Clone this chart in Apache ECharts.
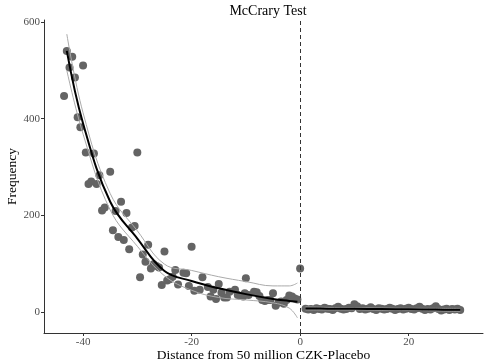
<!DOCTYPE html>
<html><head><meta charset="utf-8">
<script src="https://cdn.jsdelivr.net/npm/echarts@6/dist/echarts.min.js"></script>
<style>html,body{margin:0;padding:0;background:#fff}#c{width:485px;height:362px}</style>
</head><body><div id="c"></div>
<script>
// left-of-cutoff bins
const leftX = [-43.5,-43,-42.5,-42,-41.5,-40,-41,-40.5,-39.5,-39,-38.5,-38,-37.5,-37,-35,-30,
  -36.5,-36,-34,-33,-32,-34.5,-33.5,-32.5,-31.5,-31,-30.5,-29.5,-29,-28.5,-28,-27.5,-27,-26.5,-26,
  -25,-25.5,-24.5,-24,-23.5,-23,-22.5,-21.5,-21,-20.5,-20,-19.5,-18.5,-18,-17,-16.5,-16,-15.5,-15,
  -14.5,-14,-13.5,-13,-12,-11.5,-11,-10.5,-10,-10.2,-9.5,-8.5,-8,-7.5,-7,-6.5,-6,-5.5,-5,-4.5,-4,
  -3.5,-3,-2.5,-2,-1.5,-1,-0.5,0];
const leftY = [447,540,506,528,485,510,403,382,330,265,270,328,265,283,290,330,
  210,216,209,228,205,169,155,149,130,175,178,72,119,104,139,90,99,95,92,
  125,56,65,68,73,87,57,81,80,54,135,44,46,72,52,32,46,27,58,
  40,30,30,42,46,35,33,32,70,39,35,42,41,33,25,23,25,25,39,13,19,
  22,17,25,34,32,28,26,90];
// right-of-cutoff bins
const rightX = [1,1.5,2,2.5,3,3.5,4,4.5,5,5.5,6,6.5,7,7.5,8,8.5,9,9.5,10,10.5,11,11.5,12,12.5,13,13.5,14,14.5,
  15,15.5,16,16.5,17,17.5,18,18.5,19,19.5,20,20.5,21,21.5,22,22.5,23,23.5,24,24.5,25,25.5,26,26.5,27,27.5,28,28.5,29,29.5];
const rightY = [7,5,6,4,8,6,5,9,7,6,4,8,11,7,5,6,9,8,16,12,6,8,5,7,10,6,4,8,
  7,5,6,9,7,4,6,8,5,7,9,6,5,8,11,7,4,6,5,8,12,6,3,5,7,4,6,5,7,4];
// fitted density and confidence band (left)
const fitLX = [-43,-40,-35,-30,-25,-20,-15,-10,-5,-2,-0.5];
const fitLY = [540,390,228,152,85,64,49,37,27,23,21];
const upLY  = [575,412,245,168,99,86,73,63,54,54,60];
const loLY  = [500,368,211,136,75,45,30,25,19,8,-12];
// fitted density and band (right)
const fitRX = [1,5,10,15,20,25,29.5];
const fitRY = [7.5,7,6.5,6,5.5,5,4.5];
const upRY  = [10.5,9.5,8.5,8,7.5,7.5,7.5];
const loRY  = [4.5,4.5,4.5,4,3.5,2.5,1.5];
const xTicks = [-40,-20,0,20];
const yTicks = [0,200,400,600];

const zip = (a,b)=>a.map((v,i)=>[v,b[i]]);
const font = 'Liberation Serif';
const lineS = (x,y,color,w)=>({type:'line',data:zip(x,y),smooth:0.4,showSymbol:false,symbol:'none',
  lineStyle:{color:color,width:w},z:3,silent:true});
const chart = echarts.init(document.getElementById('c'));
chart.setOption({
  animation:false,
  title:{text:'McCrary Test',left:263,textAlign:'center',top:-1,
    textStyle:{fontFamily:font,fontSize:14,fontWeight:'normal',color:'#000'}},
  grid:{left:44,right:2,top:20,bottom:29,containLabel:false,outerBoundsMode:'none'},
  xAxis:{type:'value',min:-47.2,max:33.7,
    name:'Distance from 50 million CZK-Placebo',nameLocation:'middle',nameGap:15,nameMoveOverlap:false,
    nameTextStyle:{fontFamily:font,fontSize:13.5,color:'#000'},
    axisLine:{show:true,onZero:false,lineStyle:{color:'#333',width:1}},
    axisTick:{show:true,length:3,lineStyle:{color:'#333'},customValues:xTicks},
    axisLabel:{fontFamily:font,fontSize:11,color:'#4d4d4d',margin:4,customValues:xTicks},
    splitLine:{show:false}},
  yAxis:{type:'value',min:-43.4,max:604,
    name:'Frequency',nameLocation:'middle',nameGap:25,nameRotate:90,nameMoveOverlap:false,
    nameTextStyle:{fontFamily:font,fontSize:13.5,color:'#000'},
    axisLine:{show:true,onZero:false,lineStyle:{color:'#333',width:1}},
    axisTick:{show:true,length:3,lineStyle:{color:'#333'},customValues:yTicks},
    axisLabel:{fontFamily:font,fontSize:11,color:'#4d4d4d',margin:4,customValues:yTicks},
    splitLine:{show:false}},
  series:[
    {type:'scatter',data:zip(leftX,leftY),symbolSize:8,itemStyle:{color:'#646464',opacity:1},z:2,
      markLine:{silent:true,symbol:'none',label:{show:false},
        lineStyle:{color:'#333',type:[4,3],width:1},data:[{xAxis:0}]}},
    {type:'scatter',data:zip(rightX,rightY),symbolSize:8,itemStyle:{color:'#646464',opacity:1},z:2},
    lineS(fitLX,upLY,'#aaaaaa',1),
    lineS(fitLX,loLY,'#aaaaaa',1),
    lineS(fitLX,fitLY,'#000000',2),
    lineS(fitRX,upRY,'#aaaaaa',1),
    lineS(fitRX,loRY,'#aaaaaa',1),
    lineS(fitRX,fitRY,'#000000',2)
  ]
});
</script></body></html>
